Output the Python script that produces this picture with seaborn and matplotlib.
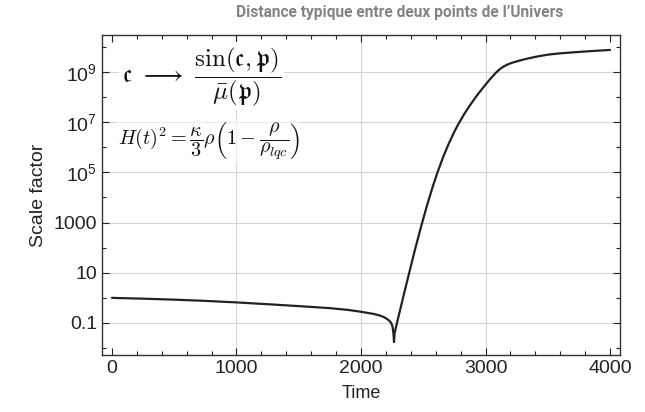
import numpy as np
import pandas as pd
import matplotlib
matplotlib.use("Agg")
import matplotlib.pyplot as plt
import matplotlib.ticker as mticker
import seaborn as sns

# Data
time = [0, 250, 500, 750, 1000, 1250, 1500, 1750, 1900, 2000, 2100, 2150, 2190, 2220,
        2240, 2252, 2258, 2262, 2265, 2270, 2300, 2350, 2400, 2432, 2480, 2530, 2580,
        2616, 2660, 2700, 2750, 2784, 2830, 2880, 2940, 3000, 3040, 3080, 3110, 3140,
        3170, 3200, 3230, 3264, 3320, 3400, 3504, 3600, 3700, 3800, 3900, 4000]
scale = [1.0, 0.93, 0.85, 0.76, 0.66, 0.56, 0.47, 0.39, 0.33, 0.28, 0.23, 0.20, 0.166, 0.132,
         0.105, 0.076, 0.05, 0.032, 0.0174, 0.04, 0.17, 1.8, 18.0, 78.0, 620.0, 4800.0, 3.1e4,
         1.05e5, 4.1e5, 1.23e6, 4.2e6, 8.7e6, 2.14e7, 5.1e7, 1.32e8, 3.1e8, 5.4e8, 8.9e8, 1.23e9, 1.58e9,
         1.9e9, 2.19e9, 2.45e9, 2.75e9, 3.24e9, 3.98e9, 4.9e9, 5.5e9, 6.0e9, 6.5e9, 7.0e9, 7.5e9]

ytick_major = [1e-1, 1e1, 1e3, 1e5, 1e7, 1e9]
ytick_labels = ["0.1", "10", "1000", r"$\mathregular{10^{5}}$", r"$\mathregular{10^{7}}$", r"$\mathregular{10^{9}}$"]
ytick_minor = [1e-2, 1e0, 1e2, 1e4, 1e6, 1e8, 1e10]
xtick_major = [0, 1000, 2000, 3000, 4000]

title = "Distance typique entre deux points de l\u2019Univers"

df = pd.DataFrame({"Time": time, "Scale factor": scale})

sns.set_theme(style="ticks")
plt.rcParams["font.family"] = ["Liberation Sans", "DejaVu Sans"]
plt.rcParams["mathtext.fontset"] = "custom"
plt.rcParams["mathtext.rm"] = "Liberation Sans"
plt.rcParams["mathtext.it"] = "Liberation Sans:italic"

fig = plt.figure(figsize=(6.45, 4.12), dpi=100)
ax = fig.add_axes([102/645, 1-355/412, (620-102)/645, (355-35)/412])

sns.lineplot(data=df, x="Time", y="Scale factor", ax=ax, color="#222222", linewidth=1.6)
ax.set_yscale("log")
ax.set_xlim(-80, 4080)
ax.set_ylim(10**-2.275, 10**10.47)

ax.set_yticks(ytick_major)
ax.set_yticklabels(ytick_labels)
ax.yaxis.set_minor_locator(mticker.FixedLocator(ytick_minor))
ax.yaxis.set_minor_formatter(mticker.NullFormatter())
ax.set_xticks(xtick_major)
ax.xaxis.set_minor_locator(mticker.MultipleLocator(200))

ax.tick_params(which="both", direction="in", top=True, right=True, colors="#222222",
               labelcolor="#222222", labelsize=14, width=0.8)
ax.tick_params(which="major", length=5)
ax.tick_params(which="minor", length=3)
for s in ax.spines.values():
    s.set_color("#333333")
    s.set_linewidth(1.0)

for xv in [1000, 2000, 3000]:
    ax.axvline(xv, color="#d4d4d4", linewidth=0.8, zorder=0)
for yv in ytick_major:
    ax.axhline(yv, color="#d4d4d4", linewidth=0.8, zorder=0)

ax.set_xlabel("Time", fontsize=13, color="#222222", labelpad=6)
ax.set_ylabel("Scale factor", fontsize=14, color="#222222", labelpad=5)

ax.text(0.038, 0.87, r"$\mathfrak{c}\ \longrightarrow\ \dfrac{\sin(\mathfrak{c},\mathfrak{p})}{\bar{\mu}(\mathfrak{p})}$",
        transform=ax.transAxes, fontsize=18, math_fontfamily="cm", va="center", ha="left",
        color="#111111", bbox=dict(facecolor="white", edgecolor="none", pad=2))
ax.text(0.03, 0.668, r"$H(t)^2=\dfrac{\kappa}{3}\rho\left(1-\dfrac{\rho}{\rho_{lqc}}\right)$",
        transform=ax.transAxes, fontsize=14.5, math_fontfamily="cm", va="center", ha="left",
        color="#111111", bbox=dict(facecolor="white", edgecolor="none", alpha=0.6, pad=1))

fig.text(400/645, 1-12/412, title, ha="center", va="center", fontsize=11.2,
         family=["Roboto", "DejaVu Sans"], fontweight="bold", color="#848484")

fig.savefig("out.png", dpi=100)
